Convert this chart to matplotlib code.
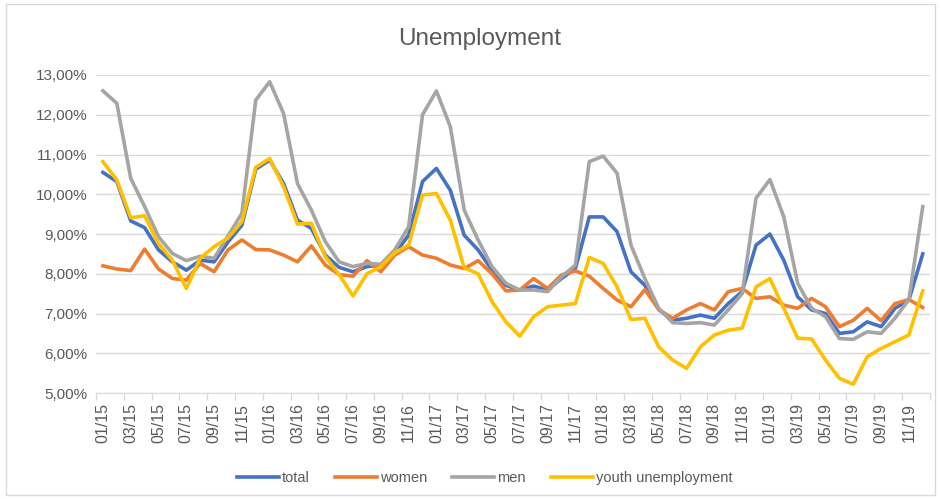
import matplotlib.pyplot as plt
from matplotlib.ticker import FuncFormatter, FixedLocator
from matplotlib.patches import Rectangle

plt.rcParams["font.family"] = ["Liberation Sans", "DejaVu Sans"]

# monthly rates in %, 01/2015 .. 12/2019
total = [10.55, 10.32, 9.33, 9.16, 8.6, 8.3, 8.09, 8.34, 8.3, 8.8,
         9.22, 10.63, 10.86, 10.27, 9.35, 9.14, 8.47, 8.16, 8.05, 8.18,
         8.22, 8.5, 8.97, 10.32, 10.65, 10.1, 8.97, 8.6, 8.09, 7.71,
         7.59, 7.69, 7.59, 7.88, 8.13, 9.43, 9.43, 9.06, 8.05, 7.71,
         7.1, 6.83, 6.88, 6.96, 6.88, 7.25, 7.55, 8.72, 9.0, 8.34,
         7.42, 7.09, 7.0, 6.5, 6.54, 6.79, 6.67, 7.13, 7.34, 8.5]
women = [8.2, 8.12, 8.08, 8.62, 8.12, 7.88, 7.84, 8.26, 8.05, 8.6,
         8.85, 8.61, 8.6, 8.47, 8.3, 8.7, 8.22, 7.98, 7.94, 8.33,
         8.05, 8.47, 8.68, 8.47, 8.39, 8.22, 8.13, 8.33, 8.0, 7.57,
         7.59, 7.88, 7.63, 7.97, 8.07, 7.94, 7.63, 7.34, 7.17, 7.6,
         7.1, 6.88, 7.09, 7.25, 7.09, 7.55, 7.63, 7.38, 7.42, 7.21,
         7.13, 7.38, 7.17, 6.67, 6.83, 7.13, 6.82, 7.25, 7.35, 7.15]
men = [12.6, 12.29, 10.4, 9.69, 8.93, 8.51, 8.33, 8.44, 8.39, 8.95,
       9.52, 12.37, 12.83, 12.03, 10.27, 9.6, 8.81, 8.3, 8.18, 8.26,
       8.24, 8.6, 9.18, 12.0, 12.6, 11.7, 9.6, 8.85, 8.18, 7.76,
       7.59, 7.59, 7.55, 7.92, 8.22, 10.82, 10.96, 10.53, 8.72, 7.88,
       7.13, 6.77, 6.75, 6.77, 6.71, 7.09, 7.5, 9.9, 10.37, 9.43,
       7.76, 7.13, 6.92, 6.37, 6.35, 6.54, 6.5, 6.88, 7.35, 9.69]
youth = [10.82, 10.36, 9.41, 9.46, 8.76, 8.34, 7.63, 8.39, 8.68, 8.9,
         9.31, 10.68, 10.9, 10.19, 9.25, 9.27, 8.43, 7.98, 7.44, 8.0,
         8.18, 8.53, 8.72, 9.98, 10.02, 9.35, 8.15, 8.0, 7.3, 6.79,
         6.43, 6.92, 7.17, 7.21, 7.25, 8.41, 8.26, 7.67, 6.85, 6.88,
         6.16, 5.83, 5.62, 6.16, 6.46, 6.58, 6.63, 7.67, 7.88, 7.13,
         6.38, 6.36, 5.83, 5.37, 5.22, 5.91, 6.12, 6.29, 6.46, 7.57]

months = [f"{m:02d}/{y % 100:02d}" for y in range(2015, 2020) for m in range(1, 13)]

series = [("total", total, "#4472C4"),
          ("women", women, "#ED7D31"),
          ("men", men, "#A5A5A5"),
          ("youth unemployment", youth, "#FFC000")]

txt = "#595959"

fig = plt.figure(figsize=(9.41, 4.99), dpi=100)
ax = fig.add_axes([0.102, 0.2124, 0.886, 0.6373])

x = list(range(len(months)))
for name, vals, col in series:
    ax.plot(x, vals, color=col, lw=2.6, label=name, solid_joinstyle="round")

ax.set_xlim(-0.5, len(months) - 0.5)
ax.set_ylim(5, 13)
ax.set_yticks(range(5, 14))
ax.yaxis.set_major_formatter(FuncFormatter(lambda v, p: f"{v:.2f}%".replace(".", ",")))
ax.grid(axis="y", color="#D9D9D9", lw=1)
ax.set_axisbelow(True)

# labels every second month, tick marks between categories
ax.set_xticks(x[::2])
ax.set_xticklabels(months[::2], rotation=90, fontsize=11.5, color=txt)
ax.tick_params(axis="x", which="major", length=0, pad=7)
ax.xaxis.set_minor_locator(FixedLocator([i - 0.5 for i in range(0, len(months) + 1, 2)]))
ax.tick_params(axis="x", which="minor", length=5, color="#D9D9D9", width=1)
ax.tick_params(axis="y", length=0, labelsize=11, labelcolor=txt, pad=6)

for s in ["top", "right", "left"]:
    ax.spines[s].set_visible(False)
ax.spines["bottom"].set_color("#D9D9D9")

fig.text(0.51, 0.922, "Unemployment", ha="center", va="center", fontsize=17.5, color=txt)

fig.legend(loc="center", bbox_to_anchor=(0.515, 0.042), ncol=4, frameon=False,
           fontsize=10.5, handlelength=2.9, columnspacing=1.7, handletextpad=0.2,
           labelcolor=txt)

fig.patches.append(Rectangle((0.006, 0.008), 0.988, 0.984, transform=fig.transFigure,
                             fill=False, edgecolor="#D9D9D9", lw=1))

fig.savefig("out.png", dpi=100)
